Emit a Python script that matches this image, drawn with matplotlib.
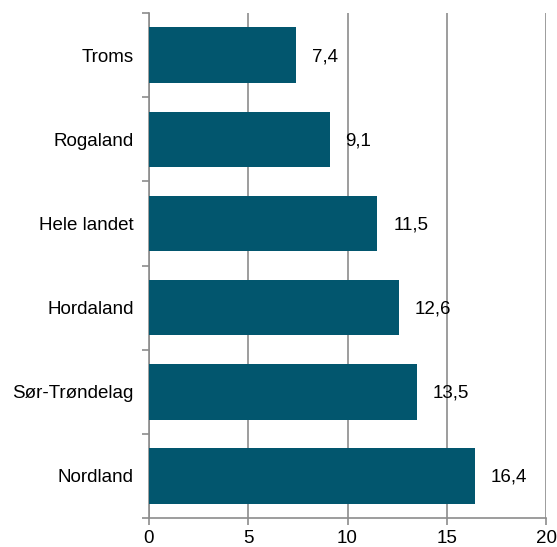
import matplotlib.pyplot as plt

plt.rcParams['font.family'] = ['Liberation Sans', 'DejaVu Sans']

# Data (top to bottom as shown)
regions = ['Troms', 'Rogaland', 'Hele landet', 'Hordaland', 'Sør-Trøndelag', 'Nordland']
values = [7.4, 9.1, 11.5, 12.6, 13.5, 16.4]
xticks = [0, 5, 10, 15, 20]

bar_color = '#02566e'
grid_color = '#8c8c8c'

fig = plt.figure(figsize=(5.57, 5.47), dpi=100)
ax = fig.add_axes([0.2675, 0.053, 0.7128, 0.923])

ypos = list(range(len(regions)))[::-1]
ax.barh(ypos, values, height=0.66, color=bar_color, zorder=3)

# value labels with decimal comma
for y, v in zip(ypos, values):
    ax.annotate(f'{v:.1f}'.replace('.', ','), (v, y), xytext=(11.5, -1),
                textcoords='offset points', va='center', ha='left',
                fontsize=13.5, color='black')

ax.set_xlim(0, 20)
ax.set_ylim(-0.5, len(regions) - 0.5)
ax.set_xticks(xticks)
ax.set_xticklabels([str(t) for t in xticks], fontsize=13.5)

# category labels centered, ticks between categories
ax.set_yticks(ypos)
ax.set_yticklabels(regions, fontsize=13.5)
ax.tick_params(axis='y', which='major', length=0, pad=11)
ax.set_yticks([i - 0.5 for i in range(len(regions) + 1)], minor=True)
ax.tick_params(axis='y', which='minor', length=5, color=grid_color, width=1.2)
ax.tick_params(axis='x', length=5, color=grid_color, width=1.2, pad=3.5)

ax.grid(axis='x', color=grid_color, linewidth=1.2, zorder=0)
for s in ['top', 'right']:
    ax.spines[s].set_visible(False)
for s in ['left', 'bottom']:
    ax.spines[s].set_color(grid_color)
    ax.spines[s].set_linewidth(1.2)

fig.savefig('out.png', dpi=100)
